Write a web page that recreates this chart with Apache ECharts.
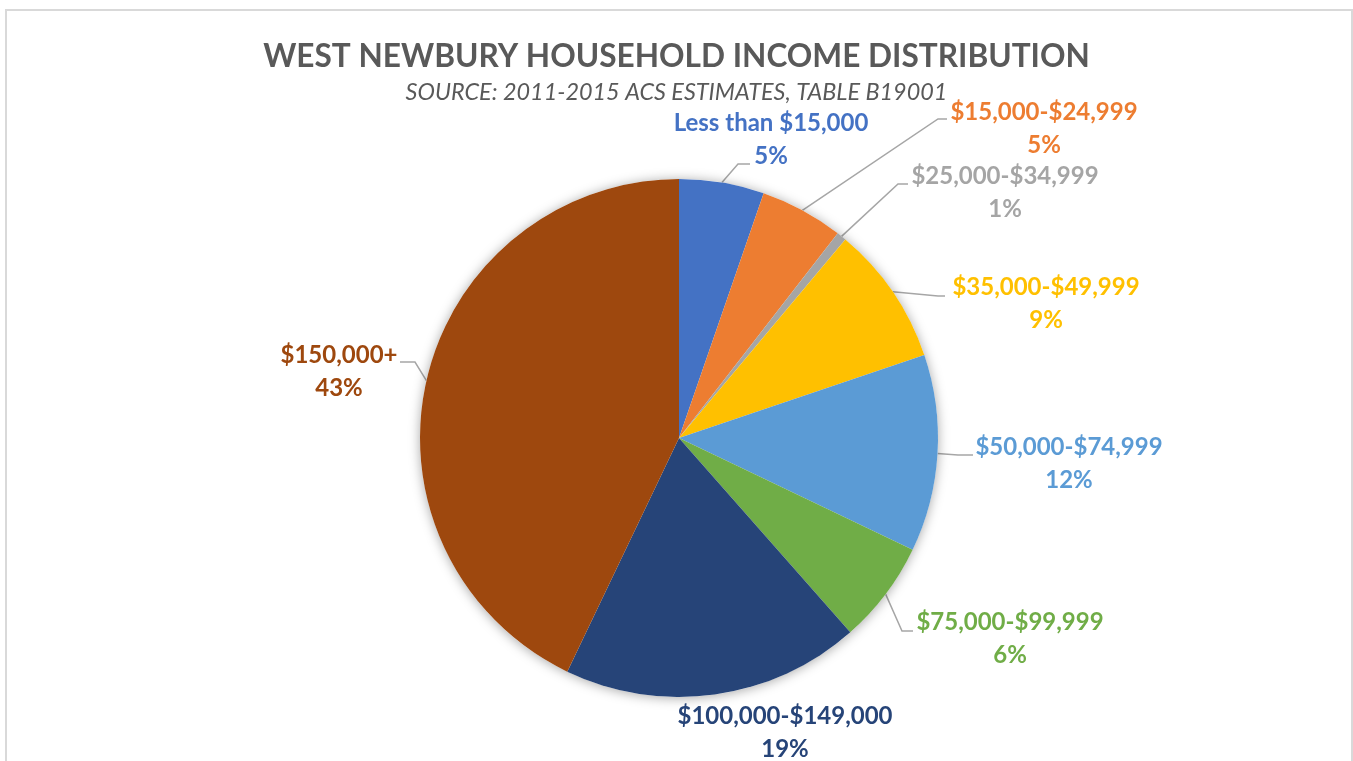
<!DOCTYPE html>
<html>
<head>
<meta charset="utf-8">
<title>West Newbury Household Income Distribution</title>
<script src="https://cdn.jsdelivr.net/npm/echarts@6/dist/echarts.min.js"></script>
<style>
html, body { margin: 0; padding: 0; background: #fff; }
#chart { width: 1353px; height: 761px; }
</style>
</head>
<body>
<div id="chart"></div>
<script>
// income brackets and their share of households (%)
var brackets = ['Less than $15,000', '$15,000-$24,999', '$25,000-$34,999', '$35,000-$49,999',
    '$50,000-$74,999', '$75,000-$99,999', '$100,000-$149,000', '$150,000+']
var shares = [5.3, 5.2, 0.6, 8.7, 12.3, 6.4, 18.6, 42.9]

var colors = ['#4472C4', '#ED7D31', '#A5A5A5', '#FFC000', '#5B9BD5', '#70AD47', '#264478', '#9E480E']

// label centres and leader line bend/end points (pixels)
var labelCenter = [[771, 140], [1044, 129], [1005, 192.5], [1046, 304], [1069, 464], [1010, 639], [785, 733], [339, 371.5]]
var lineBend = [[738, 164], [938, 119], [898, 184], [938, 296], [958, 455], [902, 631], null, [415, 362]]
var lineEnd = [[750, 164], [947, 119], [908, 184], [945, 296], [973, 455], [913, 631], null, [400, 362]]

var chart = echarts.init(document.getElementById('chart'))

var pieData = []
for (var i = 0; i < brackets.length; i++) {
    pieData.push({
        name: brackets[i],
        value: shares[i],
        itemStyle: { color: colors[i] },
        label: { color: colors[i] },
        labelLine: { show: lineBend[i] != null }
    })
}

chart.setOption({
    animation: false,
    backgroundColor: '#fff',
    title: {
        text: 'WEST NEWBURY HOUSEHOLD INCOME DISTRIBUTION',
        subtext: 'SOURCE: 2011-2015 ACS ESTIMATES, TABLE B19001',
        left: 'center',
        top: 32,
        itemGap: 2,
        textStyle: {
            fontFamily: 'Lato',
            fontWeight: 'bold',
            fontSize: 31.6,
            lineHeight: 40,
            color: '#595959'
        },
        subtextStyle: {
            fontFamily: 'Lato',
            fontStyle: 'italic',
            fontSize: 23.4,
            lineHeight: 26,
            color: '#595959'
        }
    },
    graphic: [{
        type: 'rect',
        shape: { x: 6, y: 10, width: 1346, height: 800 },
        style: { fill: 'none', stroke: '#d9d9d9', lineWidth: 2 },
        z: -10
    }],
    series: [
        {
            // soft shadow behind the whole pie
            type: 'pie',
            silent: true,
            center: [679, 438],
            radius: 259,
            label: { show: false },
            labelLine: { show: false },
            itemStyle: {
                color: '#fff',
                shadowBlur: 12,
                shadowColor: 'rgba(0,0,0,0.35)',
                shadowOffsetY: 1
            },
            data: [{ value: 1 }]
        },
        {
            type: 'pie',
            center: [679, 438],
            radius: 259,
            startAngle: 90,
            clockwise: true,
            avoidLabelOverlap: false,
            data: pieData,
            label: {
                show: true,
                position: 'outside',
                fontFamily: 'Lato',
                fontWeight: 'bold',
                fontSize: 24,
                lineHeight: 33,
                formatter: function (p) {
                    return p.name + '\n' + Math.round(p.percent) + '%'
                }
            },
            labelLine: {
                show: true,
                lineStyle: { color: '#a6a6a6', width: 1.5 }
            },
            labelLayout: function (params) {
                var i = params.dataIndex
                var res = {
                    x: labelCenter[i][0],
                    y: labelCenter[i][1],
                    align: 'center',
                    verticalAlign: 'middle'
                }
                if (lineBend[i] && params.labelLinePoints) {
                    res.labelLinePoints = [params.labelLinePoints[0], lineBend[i], lineEnd[i]]
                }
                return res
            }
        }
    ]
})
</script>
</body>
</html>
